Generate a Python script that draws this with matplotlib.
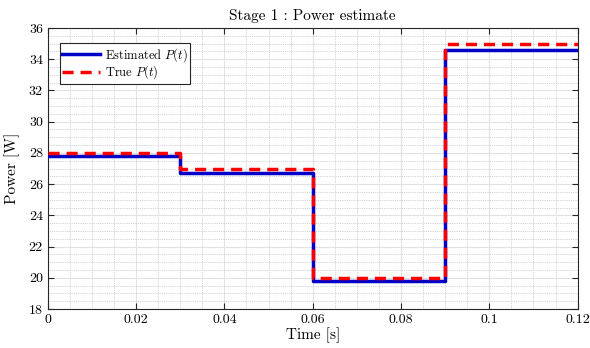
import matplotlib
matplotlib.use("Agg")
import matplotlib.pyplot as plt
from matplotlib.ticker import MultipleLocator, FuncFormatter

plt.rcParams['font.family'] = 'serif'
plt.rcParams['font.serif'] = ['cmr10']
plt.rcParams['mathtext.fontset'] = 'cm'
plt.rcParams['axes.formatter.use_mathtext'] = True

# data
t_edges = [0.0, 0.03, 0.06, 0.09, 0.12]
p_est = [27.8, 26.72, 19.79, 34.6]
p_true = [28.0, 27.0, 20.0, 35.0]

fig = plt.figure(figsize=(5.9, 3.48), dpi=100)
ax = fig.add_axes([0.081, 0.112, 0.898, 0.8075])

ax.plot(t_edges, p_est + [p_est[-1]], drawstyle='steps-post', color='#0000c8', lw=2.5,
        label=r'Estimated $P(t)$', zorder=3)
ax.plot(t_edges, p_true + [p_true[-1]], drawstyle='steps-post', color='#ff0000', lw=2.5,
        ls=(0, (3.2, 2.0)), label=r'True $P(t)$', zorder=4)

ax.set_xlim(0, 0.12)
ax.set_ylim(18, 36)
ax.xaxis.set_major_locator(MultipleLocator(0.02))
ax.xaxis.set_minor_locator(MultipleLocator(0.005))
ax.yaxis.set_major_locator(MultipleLocator(2))
ax.yaxis.set_minor_locator(MultipleLocator(0.5))
ax.xaxis.set_major_formatter(FuncFormatter(lambda v, p: '%g' % round(v, 4)))
ax.yaxis.set_major_formatter(FuncFormatter(lambda v, p: '%g' % v))

ax.grid(True, which='major', color='#e2e2e2', lw=0.8, ls='-', zorder=0)
ax.grid(True, which='minor', color='#c4c4c4', lw=0.6, ls=(0, (1, 1.2)), zorder=0)
ax.set_axisbelow(True)

ax.tick_params(which='major', direction='in', length=4, top=True, right=True,
               labelsize=10, color='#262626', width=0.8)
ax.tick_params(which='minor', length=0, top=True, right=True)
for s in ax.spines.values():
    s.set_color('#262626')
    s.set_linewidth(0.8)

ax.set_xlabel('Time [s]', fontsize=11, labelpad=1)
ax.set_ylabel('Power [W]', fontsize=11, labelpad=6)
ax.set_title('Stage 1 : Power estimate', fontsize=11, pad=6)

leg = ax.legend(loc='upper left', bbox_to_anchor=(0.023, 0.945), fontsize=9,
                fancybox=False, framealpha=1, edgecolor='#262626',
                handlelength=3.0, borderpad=0.2, labelspacing=0.0, handletextpad=0.4,
                borderaxespad=0)
leg.get_frame().set_linewidth(0.8)

fig.savefig('out.png', dpi=100)
